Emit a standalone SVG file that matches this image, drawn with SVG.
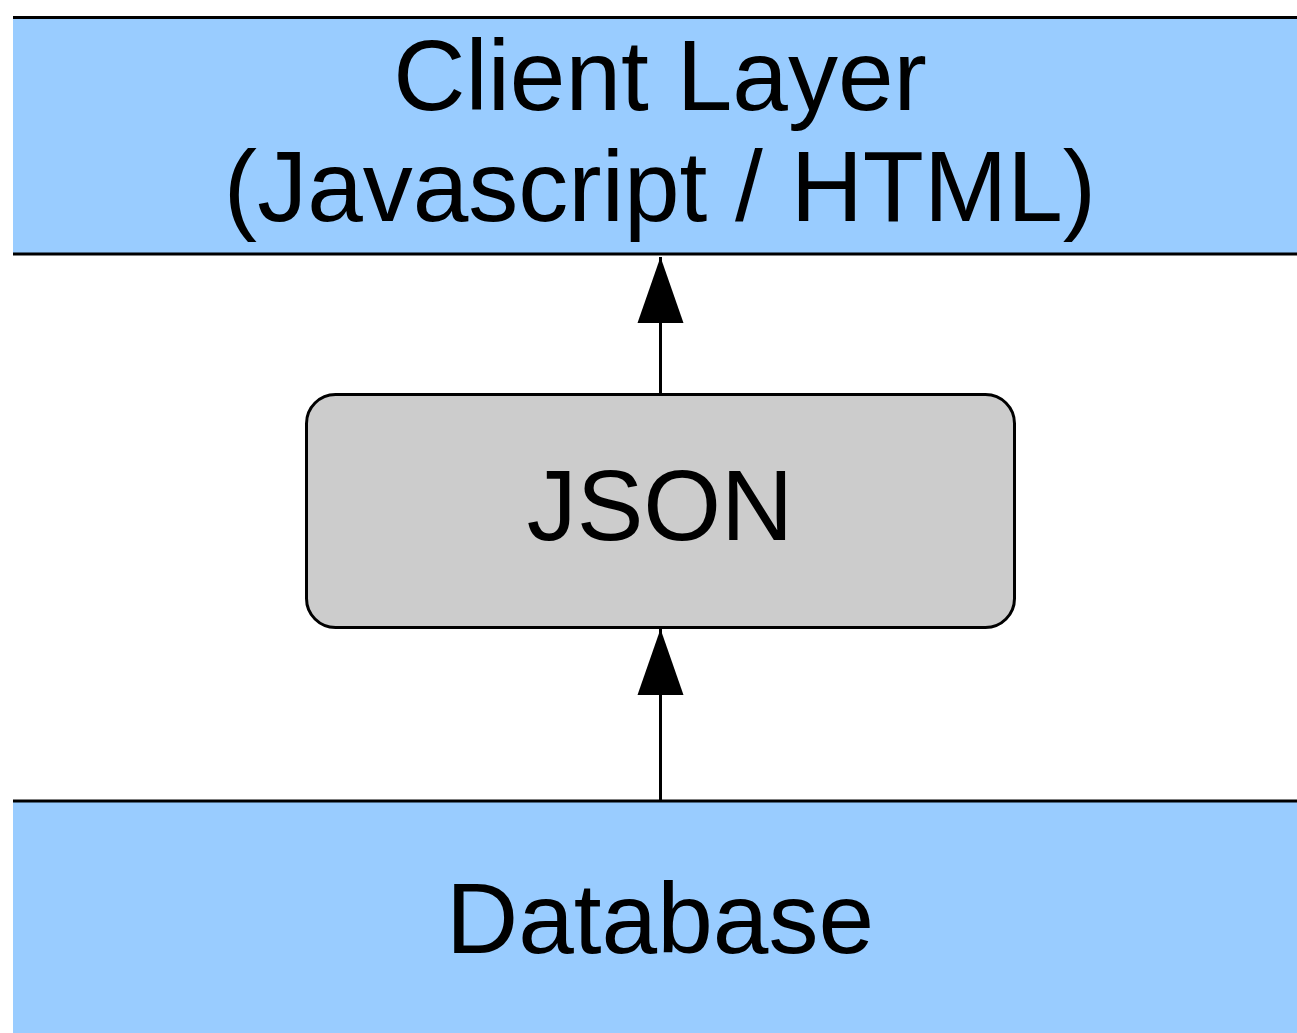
<svg xmlns="http://www.w3.org/2000/svg" width="1297" height="1033" viewBox="0 0 1297 1033">
<defs>
<style>
.band{fill:#99CCFF;stroke:none}
.edge{stroke:#000;stroke-width:3;fill:none}
.box{fill:#CCCCCC;stroke:#000;stroke-width:3}
.lbl{font-family:"Liberation Sans",Arial,sans-serif;font-size:100px;fill:#000;text-anchor:middle}
.conn{stroke:#000;stroke-width:3;fill:none}
</style>
<marker id="arr" markerUnits="userSpaceOnUse" markerWidth="68" markerHeight="48" viewBox="0 0 68 48" refX="66" refY="24" orient="auto">
<path d="M66 24 L0 47 L0 1 Z" fill="#000"/>
</marker>
</defs>
<rect width="1297" height="1033" fill="#fff"/>
<g id="client-layer">
<rect class="band" x="13" y="17" width="1284" height="237"/>
<line class="edge" x1="13" y1="17.5" x2="1297" y2="17.5"/>
<line class="edge" x1="13" y1="254" x2="1297" y2="254"/>
<text class="lbl" x="660" y="110">Client Layer</text>
<text class="lbl" x="660" y="221">(Javascript / HTML)</text>
</g>
<g id="json">
<rect class="box" x="306.5" y="394.5" width="708" height="233" rx="29" ry="29"/>
<text class="lbl" x="660" y="540">JSON</text>
</g>
<g id="database">
<rect class="band" x="13" y="801" width="1284" height="232"/>
<line class="edge" x1="13" y1="801" x2="1297" y2="801"/>
<text class="lbl" x="660" y="953">Database</text>
</g>
<g id="connectors">
<path class="conn" d="M660.5 394 L660.5 257" marker-end="url(#arr)"/>
<path class="conn" d="M660.5 800 L660.5 629" marker-end="url(#arr)"/>
</g>
</svg>
